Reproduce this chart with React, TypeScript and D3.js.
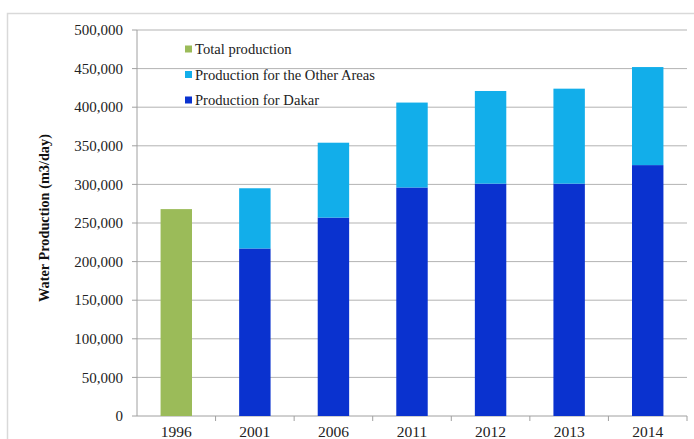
import React from "react";
import * as d3 from "d3";

const years = ["1996", "2001", "2006", "2011", "2012", "2013", "2014"];
const totalProduction = [268000, 0, 0, 0, 0, 0, 0];
const dakar = [0, 217000, 257000, 296000, 301000, 301000, 325000];
const otherAreas = [0, 78000, 97000, 110000, 120000, 123000, 127000];
const yTicks = [0, 50000, 100000, 150000, 200000, 250000, 300000, 350000, 400000, 450000, 500000];
const legendItems = ["Total production", "Production for the Other Areas", "Production for Dakar"];
const colors = { total: "#9BBB59", other: "#12AEEA", dakar: "#0A32CF" };
const legendColors = [colors.total, colors.other, colors.dakar];

export default function App() {
  const W = 694, H = 439;
  const left = 137, right = 687, top = 30, bottom = 416;
  const x = d3.scaleBand<string>().domain(years).range([left, right]).paddingInner(0.6).paddingOuter(0.3);
  const xb = d3.scaleBand<string>().domain(years).range([left, right]);
  const y = d3.scaleLinear().domain([0, 500000]).range([bottom, top]);
  const fmt = d3.format(",");
  const font = "Liberation Serif, Times New Roman, serif";
  const stack = years.map((yr, i) => ({ yr, total: totalProduction[i], dakar: dakar[i], other: otherAreas[i] }));
  return (
    <svg width={W} height={H} style={{ position: "absolute", left: 0, top: 0, fontFamily: font }}>
      <rect x={0} y={0} width={W} height={H} fill="#fff" />
      <rect x={7.5} y={13.5} width={W} height={H} fill="none" stroke="#d9d9d9" strokeWidth={1.5} />
      {yTicks.map((t) => (
        <g key={t}>
          {t > 0 && <line x1={left} x2={right} y1={y(t)} y2={y(t)} stroke="#b3b3b3" strokeWidth={1} />}
          <line x1={left - 5} x2={left} y1={y(t)} y2={y(t)} stroke="#a0a0a0" />
          <text x={123} y={y(t)} dy="0.35em" textAnchor="end" fontSize={15} fill="#222" style={{ fontFamily: font }}>{fmt(t)}</text>
        </g>
      ))}
      <line x1={left} x2={left} y1={top} y2={bottom} stroke="#a0a0a0" />
      <line x1={left} x2={right} y1={bottom} y2={bottom} stroke="#a0a0a0" />
      {years.map((yr) => (
        <line key={"t" + yr} x1={(xb(yr) as number) + xb.bandwidth()} x2={(xb(yr) as number) + xb.bandwidth()} y1={bottom} y2={bottom + 5} stroke="#a0a0a0" />
      ))}
      {stack.map((d) => (
        <g key={d.yr}>
          {d.total > 0 && <rect x={x(d.yr)} width={x.bandwidth()} y={y(d.total)} height={y(0) - y(d.total)} fill={colors.total} />}
          {d.dakar > 0 && <rect x={x(d.yr)} width={x.bandwidth()} y={y(d.dakar)} height={y(0) - y(d.dakar)} fill={colors.dakar} />}
          {d.other > 0 && <rect x={x(d.yr)} width={x.bandwidth()} y={y(d.dakar + d.other)} height={y(d.dakar) - y(d.dakar + d.other)} fill={colors.other} />}
          <text x={(x(d.yr) as number) + x.bandwidth() / 2} y={437} textAnchor="middle" fontSize={15.5} fill="#222" style={{ fontFamily: font }}>{d.yr}</text>
        </g>
      ))}
      {legendItems.map((name, i) => (
        <g key={name} transform={`translate(185, ${49 + i * 25.5})`}>
          <rect x={0} y={-3.5} width={7} height={7} fill={legendColors[i]} />
          <text x={10} y={0} dy="0.35em" fontSize={14.6} fill="#222" style={{ fontFamily: font }}>{name}</text>
        </g>
      ))}
      <text transform="translate(44, 218) rotate(-90)" textAnchor="middle" dy="0.35em" fontSize={14.3} fontWeight="bold" fill="#111" style={{ fontFamily: font }}>Water Production (m3/day)</text>
    </svg>
  );
}
